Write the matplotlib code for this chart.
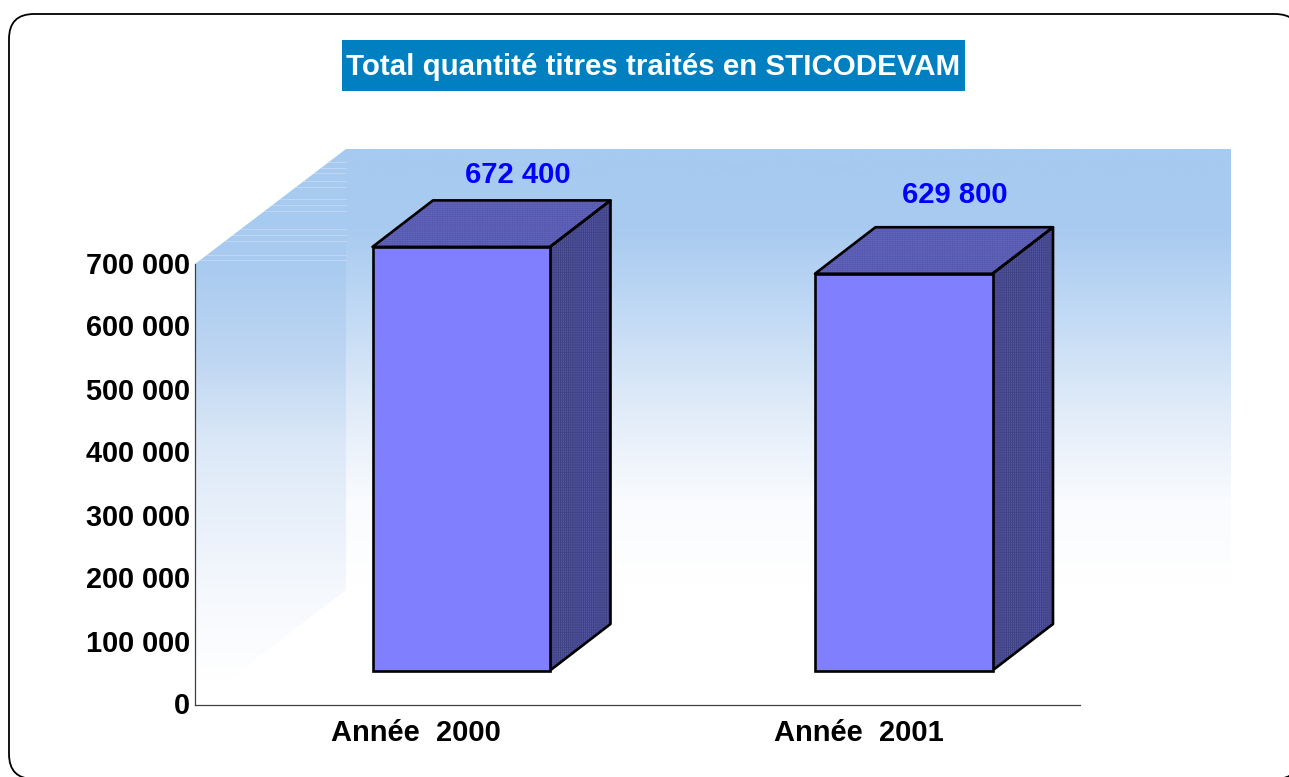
"""Faux-3D bar chart card: Total quantité titres traités en STICODEVAM."""
import matplotlib

matplotlib.use("Agg")
import matplotlib.pyplot as plt  # noqa: E402
import numpy as np  # noqa: E402
from matplotlib.colors import to_rgb  # noqa: E402
from matplotlib.patches import FancyBboxPatch, Polygon, Rectangle  # noqa: E402
from matplotlib.transforms import Affine2D  # noqa: E402

plt.rcParams["font.family"] = ["Liberation Sans", "DejaVu Sans"]
plt.rcParams["hatch.linewidth"] = 0.6

TITLE = "Total quantité titres traités en STICODEVAM"
categories = ["Année  2000", "Année  2001"]
values = [672400, 629800]
value_labels = ["672 400", "629 800"]
y_ticks = [0, 100000, 200000, 300000, 400000, 500000, 600000, 700000]
y_tick_labels = ["0", "100 000", "200 000", "300 000", "400 000", "500 000",
                 "600 000", "700 000"]

W, H = 1289, 777
AX_L, AX_R, AX_TOP, AX_BOT = 195, 1080, 264, 705
Y_MAX = 700000
PX_X = 2 / (AX_R - AX_L)  # data units per pixel
PX_Y = Y_MAX / (AX_BOT - AX_TOP)

BACK_STOPS = [(149, "#A6CAF0"), (230, "#A9CBF0"), (300, "#BDD7F4"),
              (400, "#DEEAF8"), (500, "#F9FBFE"), (585, "#FFFFFF")]
SIDE_STOPS = [(149, "#A6CAF0"), (264, "#A9CBF0"), (350, "#BCD5F2"),
              (450, "#DDE9F8"), (590, "#F5F8FD"), (680, "#FFFFFF")]


def ramp(stops, y_top, y_bot):
    """One-column RGB image following the colour stops (pixel rows)."""
    rows = np.arange(y_top, y_bot + 1)
    ys = [s[0] for s in stops]
    cols = np.array([to_rgb(s[1]) for s in stops])
    img = np.stack([np.interp(rows, ys, cols[:, i]) for i in range(3)], axis=1)
    return img[:, None, :]


def px_x(x):
    return -0.5 + (x - AX_L) * PX_X


def px_y(y):
    return (AX_BOT - y) * PX_Y


fig = plt.figure(figsize=(W / 100, H / 100), dpi=100, facecolor="white")

# card frame and title banner, in plain pixels
bg = fig.add_axes([0, 0, 1, 1])
bg.set_xlim(0, W)
bg.set_ylim(H, 0)
bg.axis("off")
bg.add_patch(FancyBboxPatch((9, 14), 1291, 765,
                            boxstyle="round,pad=0,rounding_size=25",
                            fc="white", ec="black", lw=1.3, clip_on=True))
bg.add_patch(Rectangle((342, 40), 623, 51, fc="#0080C0", ec="none"))
bg.text(653.5, 67, TITLE, color="white", fontsize=21.25, fontweight="bold",
        ha="center", va="center")

ax = fig.add_axes([AX_L / W, 1 - AX_BOT / H, (AX_R - AX_L) / W,
                   (AX_BOT - AX_TOP) / H])
ax.patch.set_alpha(0)
x = np.arange(len(categories))

# gradient walls behind the bars
back = ax.imshow(ramp(BACK_STOPS, 149, 590), aspect="auto", zorder=1,
                 extent=(px_x(346), px_x(1231), px_y(590), px_y(149)))
back.set_clip_on(False)
side_poly = Polygon([(px_x(195), px_y(264)), (px_x(346), px_y(149)),
                     (px_x(346), px_y(590)), (px_x(195), px_y(705))],
                    transform=ax.transData)
side = ax.imshow(ramp(SIDE_STOPS, 149, 705), aspect="auto", zorder=1,
                 extent=(px_x(195), px_x(346), px_y(705), px_y(149)))
side.set_clip_box(fig.bbox)
side.set_clip_path(side_poly)

# pale streaks on the top of the side wall
for y, x0 in [(162, 329), (168, 321), (173, 314), (181, 303), (187, 295),
              (199, 280), (205, 272), (211, 264), (229, 240), (235, 233),
              (241, 225), (255, 207), (260, 200)]:
    ax.plot([px_x(x0), px_x(346)], [px_y(y), px_y(y)], color="#C4DAF4",
            lw=0.6, zorder=1.5, clip_on=False)

# bars: front face from the data, then top and side faces
bar_w = 177.5 * PX_X
lift = 34.5 * PX_Y
shift = 45 * PX_X
dx, dy = 60.5 * PX_X, 46.5 * PX_Y
bars = ax.bar(x + shift, values, width=bar_w, bottom=lift,
              color="#8080FF", edgecolor="black", linewidth=1.9, zorder=4,
              clip_on=False)
for bar in bars:
    x0, x1 = bar.get_x(), bar.get_x() + bar.get_width()
    y0, y1 = bar.get_y(), bar.get_y() + bar.get_height()
    top = [(x0, y1), (x1, y1), (x1 + dx, y1 + dy), (x0 + dx, y1 + dy)]
    right = [(x1, y0), (x1 + dx, y0 + dy), (x1 + dx, y1 + dy), (x1, y1)]
    for pts, fc, hc, hatch, cross in [
            (top, "#5659AE", "#6F73CC", "-" * 8, "|" * 10),
            (right, "#3F4284", "#6669BC", "|" * 8, "-" * 10)]:
        ax.add_patch(Polygon(pts, fc=fc, ec=hc, hatch=hatch, lw=0, zorder=3,
                             clip_on=False))
        # darker cross hatch breaks the stripes into the dotted screen
        ax.add_patch(Polygon(pts, fill=False, ec=fc, hatch=cross, lw=0,
                             zorder=3.2, clip_on=False))
        ax.add_patch(Polygon(pts, fill=False, ec="black", lw=1.9, zorder=3.5,
                             joinstyle="round", clip_on=False))

# value labels above the boxes
for xi, v, lab, (off_x, off_y) in zip(x, values, value_labels,
                                      [(101.5, 72), (96.5, 79)]):
    ax.text(xi + off_x * PX_X, v + lift + off_y * PX_Y, lab, color="#0000FF",
            fontsize=21.1, fontweight="bold", ha="center", va="center",
            zorder=5, clip_on=False)

ax.set_xlim(-0.5, 1.5)
ax.set_ylim(0, Y_MAX)
ax.set_xticks(x, categories)
ax.set_yticks(y_ticks, y_tick_labels)
ax.tick_params(axis="both", length=0, labelcolor="black")
ax.tick_params(axis="y", pad=3.4, labelsize=20.8)
ax.tick_params(axis="x", pad=9.8, labelsize=21)
for lab in ax.get_xticklabels() + ax.get_yticklabels():
    lab.set_fontweight("bold")
# nudge the y labels up a hair, they sit slightly high in the original
for lab in ax.get_yticklabels():
    lab.set_transform(lab.get_transform() + Affine2D().translate(0, 1.5))
for name in ("top", "right"):
    ax.spines[name].set_visible(False)
for name in ("left", "bottom"):
    ax.spines[name].set_color("#404040")
    ax.spines[name].set_linewidth(0.9)
    ax.spines[name].set_zorder(2)

fig.savefig("out.png", dpi=100, facecolor="white")
plt.close(fig)
